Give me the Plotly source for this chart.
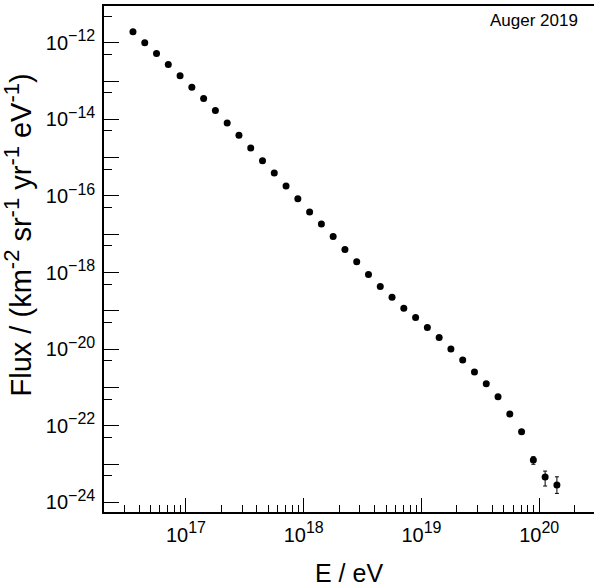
import plotly.graph_objects as go

# Energy bin centres (eV)
energy = [3.548e16, 4.467e16, 5.623e16, 7.079e16, 8.913e16,
          1.122e17, 1.413e17, 1.778e17, 2.239e17, 2.818e17,
          3.548e17, 4.467e17, 5.623e17, 7.079e17, 8.913e17,
          1.122e18, 1.413e18, 1.778e18, 2.239e18, 2.818e18,
          3.548e18, 4.467e18, 5.623e18, 7.079e18, 8.913e18,
          1.122e19, 1.413e19, 1.778e19, 2.239e19, 2.818e19,
          3.548e19, 4.467e19, 5.623e19, 7.079e19, 8.913e19,
          1.122e20, 1.413e20]

# Flux (km^-2 sr^-1 yr^-1 eV^-1)
flux = [1.94e-12, 1.00e-12, 5.25e-13, 2.71e-13, 1.37e-13,
        6.90e-14, 3.50e-14, 1.70e-14, 8.09e-15, 3.84e-15,
        1.80e-15, 8.38e-16, 3.99e-16, 1.82e-16, 8.49e-17,
        3.82e-17, 1.85e-17, 8.79e-18, 4.02e-18, 1.91e-18,
        8.91e-19, 4.34e-19, 2.26e-19, 1.18e-19, 6.70e-20,
        3.67e-20, 2.01e-20, 1.02e-20, 5.25e-21, 2.55e-21,
        1.26e-21, 5.77e-22, 2.03e-22, 7.02e-23, 1.28e-23,
        4.58e-24, 2.83e-24]

err_up = [0.0] * 32 + [1.0e-23, 6.0e-24, 2.8e-24, 2.0e-24, 1.83e-24]
err_down = [0.0] * 32 + [1.0e-23, 6.0e-24, 2.9e-24, 1.9e-24, 1.11e-24]

SUP = "<sup><span style='font-size:16px'>%s</span></sup>"
x_major = [1e17, 1e18, 1e19, 1e20]
x_major_text = ["10" + SUP % "17", "10" + SUP % "18", "10" + SUP % "19", "10" + SUP % "20"]
x_minor = [float(m) * 10.0 ** e for e in range(16, 21) for m in range(2, 10)]
x_minor = [v for v in x_minor if 2.5e16 < v < 2.8e20]

y_exps = list(range(-24, -11))
y_major = [10.0 ** e for e in y_exps]
y_major_text = [("10" + SUP % ("\u2212%d" % (-e))) if e % 2 == 0 else "" for e in y_exps]
y_minor = [5.0 * 10.0 ** e for e in range(-24, -11)]

FONT = "Liberation Sans, Arial, Helvetica, sans-serif"
TSUP = "<sup><span style='font-size:22px'>%s</span></sup>"
y_title = ("Flux / (km" + TSUP % "-2" + " sr" + TSUP % "-1" + " yr" + TSUP % "-1"
           + " eV" + TSUP % "-1" + ")")

fig = go.Figure()
fig.add_trace(go.Scatter(
    x=energy, y=flux, mode="markers",
    marker=dict(color="black", size=7, symbol="circle"),
    error_y=dict(type="data", symmetric=False, array=err_up, arrayminus=err_down,
                 color="black", thickness=1, width=2),
    showlegend=False, hoverinfo="x+y",
))

fig.update_layout(
    width=594, height=587,
    margin=dict(l=104, r=0, t=6, b=75),
    paper_bgcolor="white", plot_bgcolor="white",
    font=dict(family=FONT, color="black"),
    xaxis=dict(
        type="log", range=[16.304, 20.465],
        showgrid=False, zeroline=False,
        showline=True, linecolor="black", linewidth=1.5, mirror=True,
        ticks="inside", ticklen=14, tickwidth=1, tickcolor="black",
        tickmode="array", tickvals=x_major, ticktext=x_major_text,
        tickfont=dict(size=20, family=FONT, color="black"),
        ticklabelstandoff=4, automargin=False,
        minor=dict(tickmode="array", tickvals=x_minor, ticks="inside",
                   ticklen=7, tickwidth=1, tickcolor="black", showgrid=False),
    ),
    yaxis=dict(
        type="log", range=[-24.25, -11.04],
        showgrid=False, zeroline=False,
        showline=True, linecolor="black", linewidth=1.5, mirror=False,
        ticks="inside", ticklen=15, tickwidth=1, tickcolor="black",
        tickmode="array", tickvals=y_major, ticktext=y_major_text,
        tickfont=dict(size=20, family=FONT, color="black"),
        ticklabelstandoff=3, automargin=False,
        minor=dict(tickmode="array", tickvals=y_minor, ticks="inside",
                   ticklen=8, tickwidth=1, tickcolor="black", showgrid=False),
    ),
    annotations=[
        dict(text="E / eV", xref="paper", yref="paper", x=0.5, y=-0.121,
             xanchor="center", yanchor="middle", showarrow=False,
             font=dict(size=25, family=FONT, color="black")),
        dict(text=y_title,
             xref="paper", yref="paper", x=-0.175, y=0.547, textangle=-90,
             xanchor="center", yanchor="middle", showarrow=False,
             font=dict(size=29, family=FONT, color="black")),
        dict(text="Auger 2019", xref="paper", yref="paper", x=0.971, y=0.971,
             xanchor="right", yanchor="middle", showarrow=False,
             font=dict(size=17, family=FONT, color="black")),
    ],
)

fig.write_html("out.html", config={"displayModeBar": False},
               post_script="document.body.style.margin='0px';document.body.style.overflow='hidden';")
